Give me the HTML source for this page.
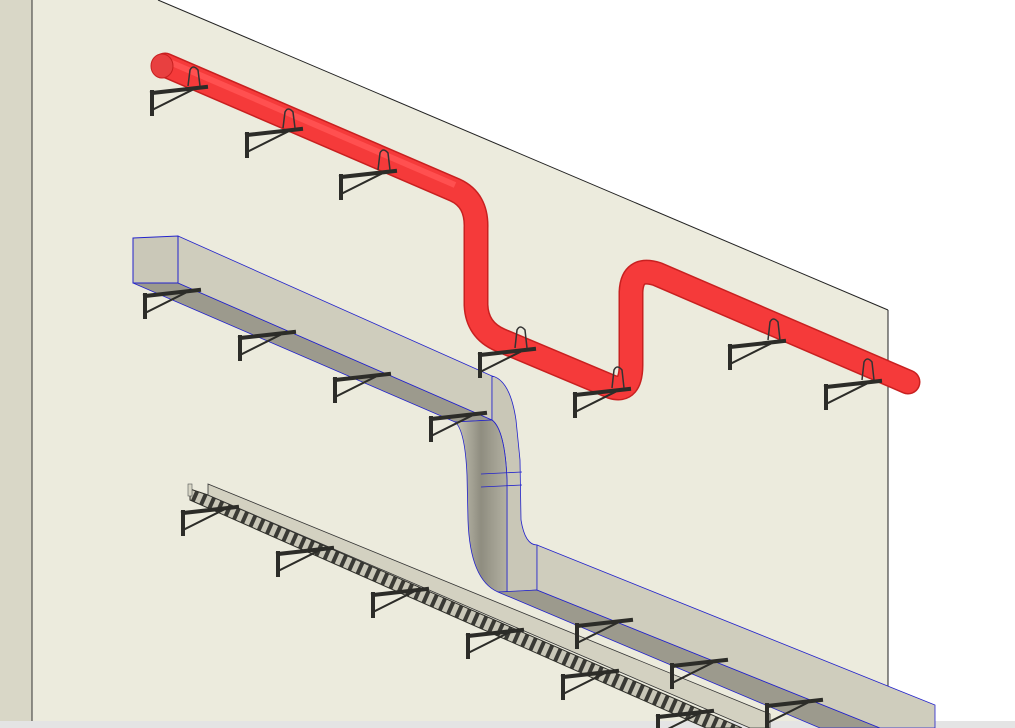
<!DOCTYPE html>
<html><head><meta charset="utf-8"><style>html,body{margin:0;padding:0;background:#fff}svg{display:block}</style></head>
<body>
<svg width="1015" height="728" viewBox="0 0 1015 728" xmlns="http://www.w3.org/2000/svg">
<defs>
<linearGradient id="dark" x1="0" y1="0" x2="1" y2="0">
<stop offset="0" stop-color="#c8c6b6"/><stop offset="0.5" stop-color="#8f8d80"/><stop offset="1" stop-color="#b3b1a2"/></linearGradient>
<pattern id="hatch" width="9" height="9" patternUnits="userSpaceOnUse" patternTransform="rotate(24)">
<rect width="9" height="9" fill="#c9c7b8"/><rect width="4" height="9" fill="#3a3a35"/></pattern>
<g id="br" fill="none" stroke="#2c2c28" stroke-linecap="square">
<path d="M0,0 L0,22" stroke-width="4"/>
<path d="M0,1 L54,-5" stroke-width="4"/>
<path d="M2,17 L40,-2" stroke-width="2"/>
</g>
</defs>
<rect x="0" y="0" width="1015" height="728" fill="#ffffff"/>
<polygon points="32,0 158,0 888,310 888,722 32,722" fill="#ecebdd"/>
<rect x="0" y="0" width="32" height="722" fill="#d9d7c7"/>
<line x1="32" y1="0" x2="32" y2="722" stroke="#333" stroke-width="1"/>
<line x1="158" y1="0" x2="888" y2="310" stroke="#222" stroke-width="1"/>
<line x1="888" y1="310" x2="888" y2="722" stroke="#222" stroke-width="1"/>
<rect x="0" y="721" width="1015" height="7" fill="#e4e4e4"/>

<!-- cable tray -->
<polygon points="190,489 208,495 742,728 706,728 190,500" fill="url(#hatch)" stroke="#2f2f2a" stroke-width="1"/>
<rect x="188" y="484" width="4" height="12" fill="#d8d6c6" stroke="#555" stroke-width="0.6"/>
<polygon points="208,484 770,714 770,728 750,728 208,495" fill="#d3d1c1" stroke="#333" stroke-width="0.8"/>

<!-- duct -->
<polygon points="133,283 178,283 492,420 455,422" fill="#9c9a8d" stroke="#2222cc" stroke-width="0.8"/>
<polygon points="178,236 492,376 492,420 178,283" fill="#cfcdbd" stroke="#2222cc" stroke-width="0.8"/>
<polygon points="133,238 178,236 178,283 133,283" fill="#cac8b8" stroke="#2222cc" stroke-width="1"/>
<path d="M492,376 Q510,380 516,420 L520,460 L521,520 Q525,545 537,545 L537,590 L507,592 L507,480 Q505,430 492,420 Z" fill="#c9c7b7" stroke="#2222cc" stroke-width="0.8"/>
<path d="M455,422 L492,420 Q505,430 507,480 L507,592 L498,592 Q470,580 468,520 L467,475 Q465,430 455,422 Z" fill="url(#dark)" stroke="#2222cc" stroke-width="0.8"/>
<line x1="481" y1="474" x2="522" y2="472" stroke="#2222cc" stroke-width="0.8"/>
<line x1="481" y1="487" x2="522" y2="485" stroke="#2222cc" stroke-width="0.8"/>
<polygon points="498,592 537,590 880,728 820,728" fill="#9c9a8d" stroke="#2222cc" stroke-width="0.8"/>
<polygon points="537,545 935,705 935,728 880,728 537,590" fill="#cfcdbd" stroke="#2222cc" stroke-width="0.8"/>

<use href="#br" x="145" y="295"/><use href="#br" x="240" y="337"/><use href="#br" x="335" y="379"/><use href="#br" x="431" y="418"/>
<use href="#br" x="577" y="625"/><use href="#br" x="672" y="665"/><use href="#br" x="767" y="705"/>
<use href="#br" x="183" y="512"/><use href="#br" x="278" y="553"/><use href="#br" x="373" y="594"/><use href="#br" x="468" y="635"/><use href="#br" x="563" y="676"/><use href="#br" x="658" y="716"/>

<!-- pipe -->
<path d="M165,65 L455,190 Q477,200 476,228 L476,305 Q477,330 500,340 L612,387 Q631,393 631,365 L631,292 Q632,266 657,274 L908,382" fill="none" stroke="#c82020" stroke-width="25" stroke-linejoin="round" stroke-linecap="round"/>
<path d="M165,65 L455,190 Q477,200 476,228 L476,305 Q477,330 500,340 L612,387 Q631,393 631,365 L631,292 Q632,266 657,274 L908,382" fill="none" stroke="#f53a3a" stroke-width="22" stroke-linejoin="round" stroke-linecap="round"/>
<path d="M165,60 L455,185" fill="none" stroke="#ff5050" stroke-width="6"/>
<ellipse cx="162" cy="66" rx="11" ry="12" fill="#e84040" stroke="#c82020" stroke-width="1"/>
<use href="#br" x="152" y="92"/><use href="#br" x="247" y="134"/><use href="#br" x="341" y="176"/>
<use href="#br" x="480" y="354"/><use href="#br" x="575" y="394"/><use href="#br" x="730" y="346"/><use href="#br" x="826" y="386"/>
<g fill="none" stroke="#333" stroke-width="1.5">
<path d="M188,86 L190,70 Q193,64 198,70 L200,86"/>
<path d="M283,128 L285,112 Q288,106 293,112 L295,128"/>
<path d="M378,170 L380,153 Q383,147 388,153 L390,170"/>
<path d="M515,348 L517,330 Q520,324 525,330 L527,348"/>
<path d="M612,388 L614,370 Q617,364 622,370 L624,388"/>
<path d="M768,340 L770,322 Q773,316 778,322 L780,340"/>
<path d="M862,380 L864,362 Q867,356 872,362 L874,380"/>
</g>
</svg>
</body></html>
